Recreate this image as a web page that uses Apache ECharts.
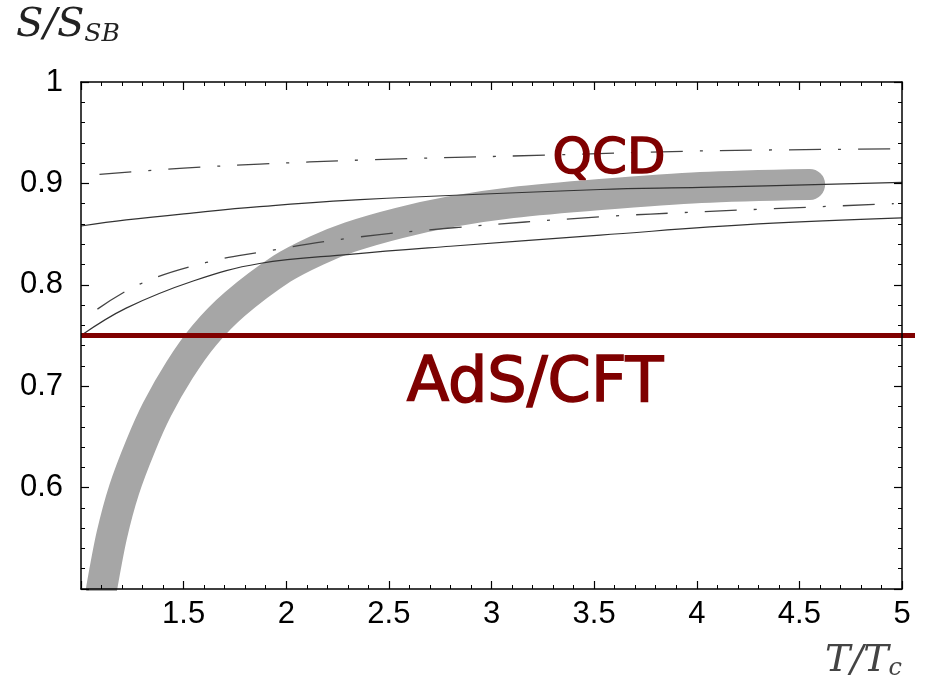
<!DOCTYPE html>
<html>
<head>
<meta charset="utf-8">
<script src="https://cdn.jsdelivr.net/npm/echarts@6/dist/echarts.min.js"></script>
<style>
html,body{margin:0;padding:0;background:#fff;}
#c{width:926px;height:683px;}
</style>
</head>
<body>
<div id="c"></div>
<script>
// Data (T/Tc, S/S_SB)
const qcdT   = [1.1, 1.15, 1.21, 1.29, 1.37, 1.48, 1.6, 1.75, 1.98, 2.15, 2.31, 2.55, 2.8, 3.1, 3.53, 4.02, 4.55];
const qcdS   = [0.5, 0.553, 0.598, 0.641, 0.677, 0.716, 0.75, 0.781, 0.816, 0.834, 0.847, 0.861, 0.872, 0.881, 0.889, 0.896, 0.899];
const upperSolidT = [1, 1.22, 1.55, 1.87, 2.36, 3.53, 4.02, 5];
const upperSolidS = [0.858, 0.864, 0.871, 0.877, 0.884, 0.894, 0.896, 0.901];
const lowerSolidT = [1, 1.22, 1.55, 1.87, 2.31, 2.8, 3.53, 4.3, 5];
const lowerSolidS = [0.75, 0.777, 0.804, 0.821, 0.830, 0.838, 0.849, 0.860, 0.866];
const upperDashT = [1.09, 1.5, 1.87, 2.36, 3.29, 4.02, 4.96];
const upperDashS = [0.909, 0.915, 0.919, 0.923, 0.928, 0.932, 0.934];
const lowerDashT = [1.08, 1.29, 1.61, 1.87, 2.31, 2.8, 3.53, 4.02, 4.96];
const lowerDashS = [0.776, 0.801, 0.822, 0.832, 0.846, 0.856, 0.867, 0.872, 0.880];
const adsT = [1, 5.06];
const adsS = [0.75, 0.75];
const xTicks = [1.5, 2, 2.5, 3, 3.5, 4, 4.5, 5];
const yTicks = [0.6, 0.7, 0.8, 0.9, 1];

function pairs(xs, ys){ return xs.map((x,i)=>[x, ys[i]]); }

const chart = echarts.init(document.getElementById('c'), null, {renderer:'canvas'});
const axisLine = {show:true, onZero:false, lineStyle:{color:'#000', width:1.5}};
const tick = {show:true, inside:true, length:8, lineStyle:{color:'#000', width:1.2}};
const minor = {show:true, splitNumber:5, length:4, lineStyle:{color:'#000', width:1}};
const lblFont = {fontFamily:'Liberation Sans, Arial, sans-serif', fontSize:31, color:'#000'};
const hidden = {show:false};

chart.setOption({
  animation:false,
  backgroundColor:'#fff',
  grid:[
    {left:81, right:24, top:82, bottom:94, containLabel:false},
    {left:81, right:11, top:82, bottom:94, containLabel:false}
  ],
  xAxis:[
    {type:'value', gridIndex:0, min:1, max:5, interval:0.5, position:'bottom', z:60,
     axisLine, axisTick:tick, minorTick:minor, splitLine:{show:false},
     axisLabel:Object.assign({margin:10, formatter:v=> xTicks.includes(+v.toFixed(2)) ? String(+v.toFixed(2)) : ''}, lblFont)},
    {type:'value', gridIndex:0, min:1, max:5, interval:0.5, position:'top', z:60,
     axisLine, axisTick:tick, minorTick:minor, splitLine:{show:false}, axisLabel:{show:false}},
    {type:'value', gridIndex:1, min:1, max:5.06, show:false, axisLine:hidden, axisTick:hidden, axisLabel:hidden, splitLine:hidden}
  ],
  yAxis:[
    {type:'value', gridIndex:0, min:0.5, max:1, interval:0.1, position:'left', z:60,
     axisLine, axisTick:tick, minorTick:minor, splitLine:{show:false},
     axisLabel:Object.assign({margin:18, formatter:v=> yTicks.includes(+v.toFixed(2)) ? String(+v.toFixed(2)) : ''}, lblFont)},
    {type:'value', gridIndex:0, min:0.5, max:1, interval:0.1, position:'right', z:60,
     axisLine, axisTick:tick, minorTick:minor, splitLine:{show:false}, axisLabel:{show:false}},
    {type:'value', gridIndex:1, min:0.5, max:1, show:false, axisLine:hidden, axisTick:hidden, axisLabel:hidden, splitLine:hidden}
  ],
  series:[
    {type:'line', data:pairs(qcdT, qcdS), smooth:0.3, symbol:'none', clip:true,
     lineStyle:{color:'#a6a6a6', width:31, cap:'round', join:'round'}, z:1},
    {type:'line', data:pairs(upperSolidT, upperSolidS), smooth:0.4, symbol:'none',
     lineStyle:{color:'#333', width:1.2}, z:3},
    {type:'line', data:pairs(lowerSolidT, lowerSolidS), smooth:0.4, symbol:'none',
     lineStyle:{color:'#333', width:1.2}, z:3},
    {type:'line', data:pairs(upperDashT, upperDashS), smooth:0.4, symbol:'none',
     lineStyle:{color:'#444', width:1.3, type:[32,17,3,17]}, z:3},
    {type:'line', data:pairs(lowerDashT, lowerDashS), smooth:0.4, symbol:'none',
     lineStyle:{color:'#444', width:1.3, type:[32,17,3,17]}, z:3},
    {type:'line', xAxisIndex:2, yAxisIndex:2, data:pairs(adsT, adsS), symbol:'none',
     lineStyle:{color:'#800000', width:5}, z:4}
  ],
  graphic:[
    // masks the round cap of the grey band below the bottom axis
    {type:'rect', z:40, shape:{x:82, y:591, width:60, height:22}, style:{fill:'#fff'}},
    {type:'text', left:16, top:6, style:{
      rich:{a:{fontFamily:'DejaVu Serif', fontStyle:'italic', fontSize:40, fill:'#222'},
            b:{fontFamily:'DejaVu Serif', fontStyle:'italic', fontSize:25, fill:'#222', padding:[17,0,0,0]}},
      text:'{a|S/S}{b|SB}'}},
    {type:'text', right:24, bottom:2, style:{
      rich:{a:{fontFamily:'DejaVu Serif', fontStyle:'italic', fontSize:38, fill:'#444'},
            b:{fontFamily:'DejaVu Serif', fontStyle:'italic', fontSize:24, fill:'#444', padding:[16,0,0,0]}},
      text:'{a|T/T}{b|c}'}},
    {type:'text', x:609, y:160, z:50, style:{text:'QCD', fill:'#7f0000', stroke:'#7f0000', lineWidth:1.5, fontFamily:'DejaVu Sans', fontSize:50, align:'center', verticalAlign:'middle'}},
    {type:'text', x:535, y:385, z:50, style:{text:'AdS/CFT', fill:'#7f0000', stroke:'#7f0000', lineWidth:1.5, fontFamily:'DejaVu Sans', fontSize:62, align:'center', verticalAlign:'middle'}}
  ]
});
</script>
</body>
</html>
